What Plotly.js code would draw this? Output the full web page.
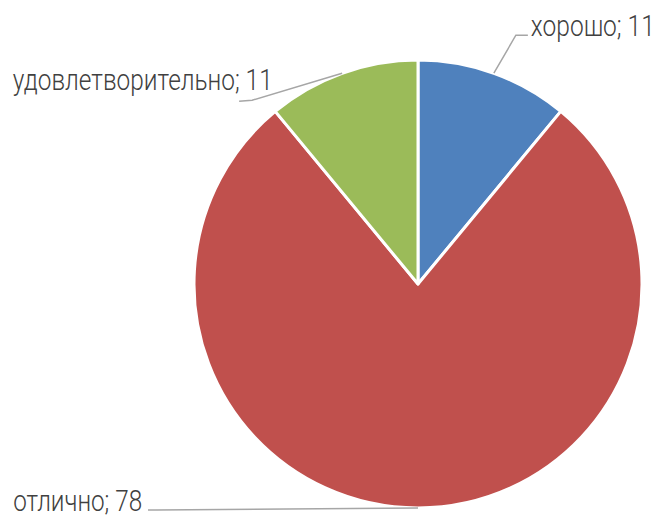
<!DOCTYPE html>
<html>
<head>
<meta charset="utf-8">
<script src="https://cdn.plot.ly/plotly-3.0.1.min.js"></script>
<style>html,body{margin:0;padding:0;background:#fff;}#chart{width:657px;height:518px;}</style>
</head>
<body>
<div id="chart"></div>
<script>
const labels = ['хорошо', 'отлично', 'удовлетворительно'];
const values = [11, 78, 11];
const colors = ['#4F81BD', '#C0504D', '#9BBB59'];

const W = 657, H = 518;
const cx = 418, cy = 284, R = 224;
const FONT = 'Roboto, sans-serif';
const FSIZE = 30;

// label layout: leader elbow/end offsets (px), text centre x, baseline y and condensed width (px)
const labelLayout = [
  {elbow: [22, -38], end: [12, 0], tx: 593, base: 36, w: 124},
  {elbow: [-262, 2], end: [-8, 0], tx: 77.5, base: 511, w: 129},
  {elbow: [-90, 27], end: [-13, 1], tx: 143, base: 90, w: 260}
];

const px2x = p => p / W;
const py2y = p => 1 - p / H;

const total = values.reduce((a, b) => a + b, 0);
let cum = 0;
const shapes = [], annotations = [];
values.forEach((v, i) => {
  const mid = (cum + v / 2) / total * 2 * Math.PI;
  cum += v;
  const ex = cx + R * Math.sin(mid), ey = cy - R * Math.cos(mid);
  const L = labelLayout[i];
  const bx = ex + L.elbow[0], by = ey + L.elbow[1];
  const fx = bx + L.end[0], fy = by + L.end[1];
  shapes.push({
    type: 'path', xref: 'paper', yref: 'paper',
    path: `M ${px2x(ex)} ${py2y(ey)} L ${px2x(bx)} ${py2y(by)} L ${px2x(fx)} ${py2y(fy)}`,
    line: {color: '#A6A6A6', width: 1.5}
  });
  annotations.push({
    xref: 'paper', yref: 'paper', x: px2x(L.tx), y: py2y(L.base - 10),
    xanchor: 'center', yanchor: 'middle', showarrow: false,
    text: labels[i] + '; ' + v,
    font: {family: FONT, size: FSIZE, color: '#404040', weight: 300}
  });
});

const data = [{
  type: 'pie',
  labels: labels,
  values: values,
  sort: false,
  direction: 'clockwise',
  rotation: 0,
  textinfo: 'none',
  hoverinfo: 'label+value',
  marker: {colors: colors, line: {color: '#FFFFFF', width: 3}},
  domain: {x: [(cx - R) / W, (cx + R) / W], y: [(H - cy - R) / H, (H - cy + R) / H]}
}];

const layout = {
  width: W, height: H,
  margin: {l: 0, r: 0, t: 0, b: 0},
  showlegend: false,
  paper_bgcolor: '#FFFFFF',
  shapes: shapes,
  annotations: annotations
};

Plotly.newPlot('chart', data, layout, {displayModeBar: false, staticPlot: true}).then(gd => {
  // condense label text horizontally (narrow typeface of the original) and align baselines
  gd.querySelectorAll('.annotation').forEach(a => {
    const idx = +a.getAttribute('data-index');
    const t = a.querySelector('text.annotation-text');
    const L = labelLayout[idx];
    if (!t || !L) return;
    const bb = t.getBBox();
    const c = bb.x + bb.width / 2;
    const k = L.w / bb.width;
    const yAttr = parseFloat(t.getAttribute('y')) || 0;
    const ctm = t.getScreenCTM();
    const baseScreen = ctm.f + ctm.d * yAttr;
    const dy = L.base - baseScreen;
    t.setAttribute('transform', `translate(0,${dy}) translate(${c},0) scale(${k},1) translate(${-c},0)`);
    const bg = a.querySelector('rect.bg');
    if (bg) bg.setAttribute('width', 0);
  });
});
</script>
</body>
</html>
